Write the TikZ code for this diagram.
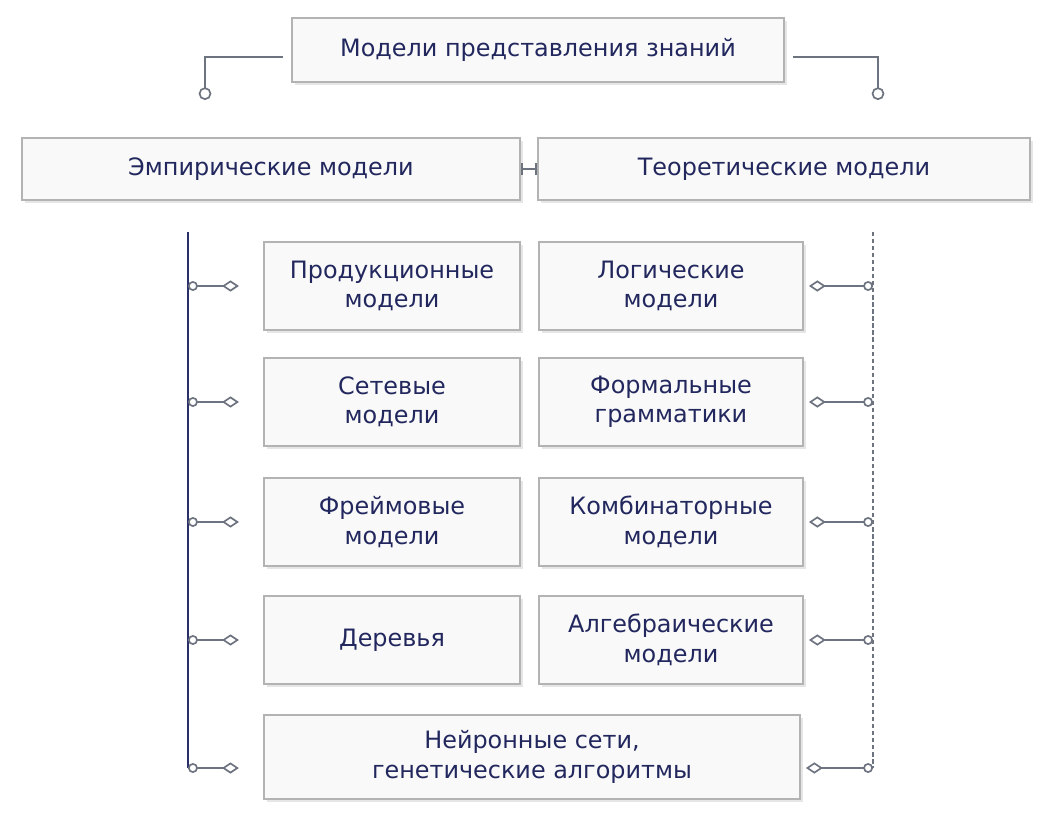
\documentclass[tikz,border=0pt]{standalone}
\usepackage{fontspec}
\setmainfont{DejaVu Sans}
\usetikzlibrary{positioning,arrows.meta,shadows}
\definecolor{boxfill}{HTML}{F9F9F9}
\definecolor{boxline}{HTML}{B3B3B3}
\definecolor{ink}{HTML}{22285E}
\definecolor{spine}{HTML}{2A2F6A}
\definecolor{linkgray}{HTML}{6E7380}
\tikzset{
  model/.style={draw=boxline, line width=1.5pt, fill=boxfill,
    drop shadow={opacity=0.2, shadow xshift=0.8mm, shadow yshift=-0.8mm},
    text=ink, align=center, inner sep=0pt,
    font=\fontsize{17}{21}\selectfont},
  link/.style={draw=linkgray, line width=1.2pt,
    {Circle[open,length=7pt]}-{Diamond[open,length=12pt,width=8pt]}},
  toplink/.style={draw=linkgray, line width=1.2pt, -{Circle[open,length=9pt]}},
}
\begin{document}
\begin{tikzpicture}[x=0.025cm, y=-0.025cm]
  \useasboundingbox (0,0) rectangle (1044,822);
  % Nodes
  \node[model, minimum width=12.3cm, minimum height=1.6cm] (root) at (538,50) {Модели представления знаний};
  \node[model, minimum width=12.45cm, minimum height=1.55cm] (emp) at (271,169) {Эмпирические модели};
  \node[model, minimum width=12.3cm, minimum height=1.55cm] (theo) at (784,169) {Теоретические модели};

  \foreach \n/\y/\t in {1/286/{Продукционные\\модели}, 2/402/{Сетевые\\модели},
      3/522/{Фреймовые\\модели}, 4/640/{Деревья}}
    \node[model, minimum width=6.4cm, minimum height=2.2cm] (E\n) at (392,\y) {\t};

  \foreach \n/\y/\t in {1/286/{Логические\\модели}, 2/402/{Формальные\\грамматики},
      3/522/{Комбинаторные\\модели}, 4/640/{Алгебраические\\модели}}
    \node[model, minimum width=6.6cm, minimum height=2.2cm] (T\n) at (671,\y) {\t};

  \node[model, minimum width=13.4cm, minimum height=2.1cm] (E5) at (532,757) {Нейронные сети,\\генетические алгоритмы};

  % Spines
  \foreach \n/\y in {1/286, 2/402, 3/522, 4/640, 5/768} {
    \coordinate (L\n) at (188,\y);
    \coordinate (R\n) at (873,\y);
  }
  \draw[spine, line width=1.8pt] (188,232) -- (L5);
  \draw[linkgray, line width=1.8pt, dash pattern=on 3pt off 2pt] (873,232) -- (R5);

  % Edges
  \foreach \n in {1,...,5}
    \draw[link, shorten >=0.6cm] (L\n) -- (L\n -| E\n.west);
  \foreach \n in {1,...,4}
    \draw[link, shorten >=0.12cm] (R\n) -- (T\n.east);
  \draw[link, shorten >=0.12cm] (R5) -- (R5 -| E5.east);

  \draw[linkgray, line width=1.2pt, {Bar[width=9pt]}-{Bar[width=9pt]}] (emp.east) -- (theo.west);

  \coordinate (topL) at (205,100);
  \coordinate (topR) at (878,100);
  \draw[toplink, shorten <=0.2cm] (root.west |- 0,57) -| (topL);
  \draw[toplink, shorten <=0.2cm] (root.east |- 0,57) -| (topR);
\end{tikzpicture}
\end{document}
